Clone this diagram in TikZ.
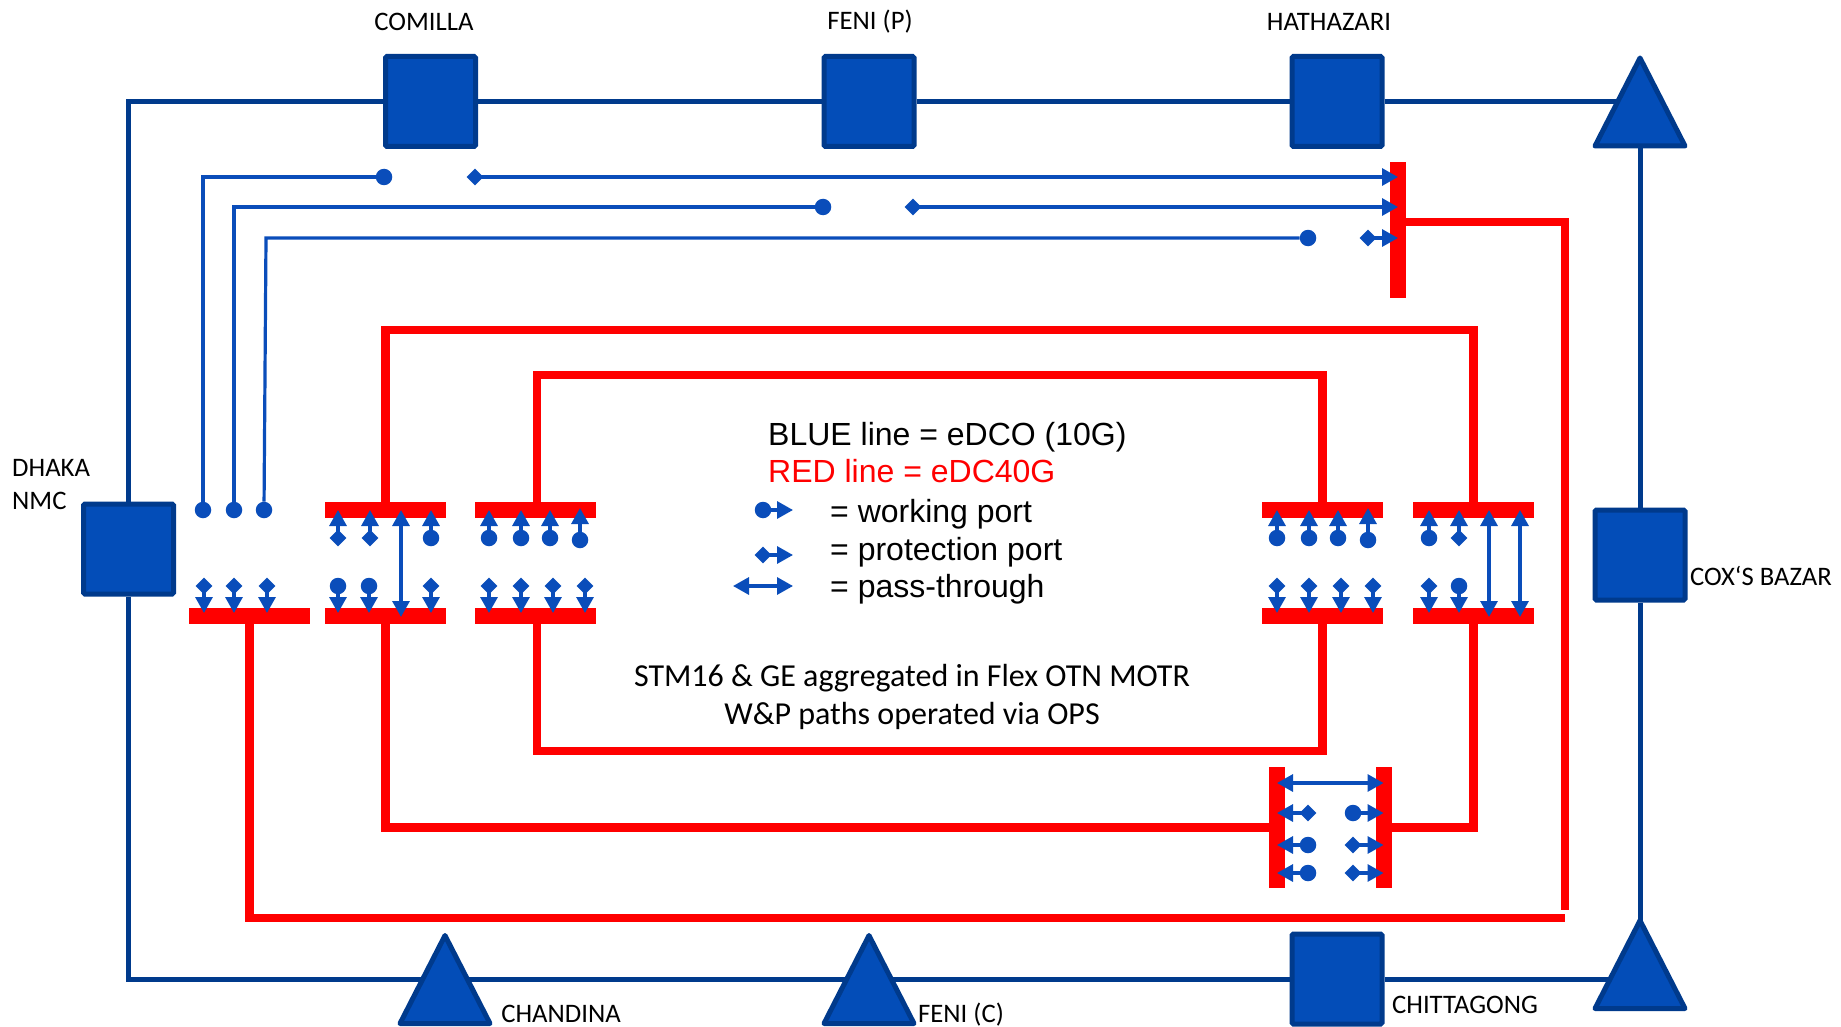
\documentclass[tikz,border=0pt]{standalone}
\usepackage{fontspec}
\setmainfont{Carlito}
\newfontfamily\legendfont{Liberation Sans}
\usetikzlibrary{arrows.meta,shapes.geometric,backgrounds}
\definecolor{ringblue}{HTML}{003A8C}
\definecolor{nodeblue}{HTML}{034DB8}
\definecolor{portblue}{HTML}{0A4DBA}
\begin{document}
\begin{tikzpicture}[
                x=1pt,
                y=-1pt,
                station/.style={
                    draw=ringblue,
                    fill=nodeblue,
                    rectangle,
                    rounded corners=1.5pt,
                    line width=5pt,
                    minimum size=90pt,
                    inner sep=0pt
                },
                tristation/.style={
                    draw=ringblue,
                    fill=nodeblue,
                    isosceles triangle,
                    isosceles triangle stretches,
                    shape border rotate=90,
                    line width=5pt,
                    line join=round,
                    minimum width=90pt,
                    minimum height=88pt,
                    inner sep=0pt,
                    outer sep=0pt,
                    anchor=lower side
                },
                ring/.style={
                    draw=ringblue,
                    line width=5pt
                },
                redbar/.style={
                    fill=red,
                    rectangle,
                    minimum width=121pt,
                    minimum height=16pt,
                    inner sep=0pt
                },
                redvbar/.style={
                    redbar,
                    minimum width=16pt,
                    minimum height=121pt
                },
                redline/.style={
                    draw=red,
                    line width=8.5pt
                },
                wport/.style={
                    fill=portblue,
                    circle,
                    minimum size=16.5pt,
                    inner sep=0pt
                },
                pport/.style={
                    fill=portblue,
                    diamond,
                    minimum size=17pt,
                    inner sep=0pt
                },
                link/.style={
                    draw=portblue,
                    line width=3.2pt
                },
                arrow/.style={
                    link,
                    shorten <=-3pt,
                    -{Triangle[length=16pt,width=17pt]}
                },
                arrowdown/.style={
                    arrow,
                    shorten >=3pt
                },
                through/.style={
                    link,
                    {Triangle[length=16pt,width=17pt]}-{Triangle[length=16pt,width=17pt]}
                },
                label/.style={
                    font=\fontsize{26.7}{33}\selectfont,
                    inner sep=0pt
                },
                note/.style={
                    font=\fontsize{32}{38}\selectfont,
                    inner sep=0pt
                },
                legend/.style={
                    font=\legendfont\fontsize{32}{38}\selectfont,
                    inner sep=0pt,
                    anchor=base west
                }
            ]
                \useasboundingbox (0,0) rectangle (1841,1027);

                % stations
                \node[station] (comilla) at (430.5,101.5) {};
                \node[station] (fenip) at (869,101.5) {};
                \node[station] (hathazari) at (1337,101.5) {};
                \node[station] (dhaka) at (128.5,549) {};
                \node[station] (cox) at (1640,555) {};
                \node[station] (chittagong) at (1337,979) {};
                \node[tristation] (corner1) at (1640,146) {};
                \node[tristation] (corner2) at (1640,1008.5) {};
                \node[tristation] (chandina) at (445,1023.5) {};
                \node[tristation] (fenic) at (869,1023.5) {};

                \node[label] (comillalabel) at (424,22) {COMILLA};
                \node[label] (fenilabel) at (870,22) {FENI (P)};
                \node[label] (hathazarilabel) at (1329,22) {HATHAZARI};
                \node[label,align=left,anchor=north west] (dhakalabel) at (12,459) {DHAKA\\NMC};
                \node[label] (coxlabel) at (1761,576) {COX‘S BAZAR};
                \node[label] (chandinalabel) at (561,1014) {CHANDINA};
                \node[label] (fenicabel) at (961,1015) {FENI (C)};
                \node[label] (chittagonglabel) at (1465,1005) {CHITTAGONG};

                % ring
                \begin{pgfonlayer}{background}
                \draw[ring] (dhaka) |- (comilla) -- (fenip) -- (hathazari) -- (hathazari -| corner1);
                \draw[ring] (corner1) -- (cox) -- (corner2);
                \draw[ring] (dhaka) |- (chittagong) -- (chittagong -| corner2);
                \end{pgfonlayer}

                % red bars
                \node[redbar] (bare) at (249.5,616) {};
                \node[redbar] (barat) at (385.5,510) {};
                \node[redbar] (barab) at (385.5,616) {};
                \node[redbar] (barbt) at (535,510) {};
                \node[redbar] (barbb) at (535,616) {};
                \node[redbar] (barct) at (1322.5,510) {};
                \node[redbar] (barcb) at (1322.5,616) {};
                \node[redbar] (bardt) at (1473.5,510) {};
                \node[redbar] (bardb) at (1473.5,616) {};
                \node[redvbar,minimum height=136pt] (barh) at (1398,230) {};
                \node[redvbar] (barf) at (1277,827.5) {};
                \node[redvbar] (barg) at (1383.5,827.5) {};

                \draw[redline] (barat.north) -- (barat.north |- 0,330) -| (bardt.north);
                \draw[redline] ([xshift=2pt]barbt.north) -- ([xshift=2pt]barbt.north |- 0,375) -| (barct.north);
                \draw[redline] ([xshift=2pt]barbb.south) -- ([xshift=2pt]barbb.south |- 0,751) -| (barcb.south);
                \draw[redline] (barab.south) |- (barf.west);
                \draw[redline] (bardb.south) |- (barg.east);
                \draw[redline] ([yshift=8pt]barh.east) -| (1565,910);
                \draw[redline] (bare.south) |- (1565,918);

                % ports on the blue links
                \node[wport] (dhaka1) at (203,510) {};
                \node[wport] (dhaka2) at (234,510) {};
                \node[wport] (dhaka3) at (264,510) {};
                \node[wport] (comillaw) at (384,177) {};
                \node[wport] (feniw) at (823,207) {};
                \node[wport] (hathw) at (1308,238) {};
                \node[pport] (comillap) at (475,177) {};
                \node[pport] (fenip2) at (913,207) {};
                \node[pport] (hathp) at (1368,238) {};

                \draw[link] (dhaka1) |- (comillaw);
                \draw[link] (dhaka2) |- (feniw);
                \draw[link] (dhaka3) -- (266,238) -- (hathw);
                \draw[arrow] (comillap) -- (comillap -| barh);
                \draw[arrow] (fenip2) -- (fenip2 -| barh);
                \draw[arrow] (hathp) -- (hathp -| barh);

                % left bar
                \node[pport] (e1) at (204,586) {};
                \node[pport] (e2) at (234,586) {};
                \node[pport] (e3) at (267,586) {};
                \draw[arrowdown] (e1) -- (e1 |- bare);
                \draw[arrowdown] (e2) -- (e2 |- bare);
                \draw[arrowdown] (e3) -- (e3 |- bare);

                % group a
                \node[pport] (at1) at (338,538) {};
                \node[pport] (at2) at (370,538) {};
                \node[wport] (at4) at (431,538) {};
                \node[wport] (ab1) at (338,586) {};
                \node[wport] (ab2) at (369,586) {};
                \node[pport] (ab4) at (431,586) {};
                \coordinate (at3) at (401,510);
                \draw[arrow] (at1) -- (at1 |- barat);
                \draw[arrow] (at2) -- (at2 |- barat);
                \draw[arrow] (at4) -- (at4 |- barat);
                \draw[arrowdown] (ab1) -- (ab1 |- barab);
                \draw[arrowdown] (ab2) -- (ab2 |- barab);
                \draw[arrowdown] (ab4) -- (ab4 |- barab);
                \draw[through] (at3) -- ([yshift=-1pt]at3 |- barab);

                % group b
                \node[wport] (bt1) at (489,538) {};
                \node[wport] (bt2) at (521,538) {};
                \node[wport] (bt3) at (550,538) {};
                \node[wport] (bt4) at (580,540) {};
                \node[pport] (bb1) at (489,586) {};
                \node[pport] (bb2) at (521,586) {};
                \node[pport] (bb3) at (553,586) {};
                \node[pport] (bb4) at (585,586) {};
                \draw[arrow] (bt1) -- (bt1 |- barbt);
                \draw[arrow] (bt2) -- (bt2 |- barbt);
                \draw[arrow] (bt3) -- (bt3 |- barbt);
                \draw[arrow] (bt4) -- ([yshift=2pt]bt4 |- barbt);
                \draw[arrowdown] (bb1) -- (bb1 |- barbb);
                \draw[arrowdown] (bb2) -- (bb2 |- barbb);
                \draw[arrowdown] (bb3) -- (bb3 |- barbb);
                \draw[arrowdown] (bb4) -- (bb4 |- barbb);

                % group c
                \node[wport] (ct1) at (1277,538) {};
                \node[wport] (ct2) at (1309,538) {};
                \node[wport] (ct3) at (1338,538) {};
                \node[wport] (ct4) at (1368,540) {};
                \node[pport] (cb1) at (1277,586) {};
                \node[pport] (cb2) at (1309,586) {};
                \node[pport] (cb3) at (1341,586) {};
                \node[pport] (cb4) at (1373,586) {};
                \draw[arrow] (ct1) -- (ct1 |- barct);
                \draw[arrow] (ct2) -- (ct2 |- barct);
                \draw[arrow] (ct3) -- (ct3 |- barct);
                \draw[arrow] (ct4) -- ([yshift=2pt]ct4 |- barct);
                \draw[arrowdown] (cb1) -- (cb1 |- barcb);
                \draw[arrowdown] (cb2) -- (cb2 |- barcb);
                \draw[arrowdown] (cb3) -- (cb3 |- barcb);
                \draw[arrowdown] (cb4) -- (cb4 |- barcb);

                % group d
                \node[wport] (dt1) at (1429,538) {};
                \node[pport] (dt2) at (1459,538) {};
                \node[pport] (db1) at (1429,586) {};
                \node[wport] (db2) at (1459,586) {};
                \coordinate (dt3) at (1489,510);
                \coordinate (dt4) at (1520,510);
                \draw[arrow] (dt1) -- (dt1 |- bardt);
                \draw[arrow] (dt2) -- (dt2 |- bardt);
                \draw[arrowdown] (db1) -- (db1 |- bardb);
                \draw[arrowdown] (db2) -- (db2 |- bardb);
                \draw[through] (dt3) -- ([yshift=-1pt]dt3 |- bardb);
                \draw[through] (dt4) -- ([yshift=-1pt]dt4 |- bardb);

                % lower right pair
                \coordinate (f1) at (1277,783);
                \node[pport] (f2) at (1308,813) {};
                \node[wport] (f3) at (1308,845) {};
                \node[wport] (f4) at (1308,873) {};
                \node[wport] (g2) at (1353,813) {};
                \node[pport] (g3) at (1353,845) {};
                \node[pport] (g4) at (1353,873) {};
                \draw[through] (f1) -- (f1 -| barg);
                \draw[arrow] (f2) -- (f2 -| barf);
                \draw[arrow] (f3) -- (f3 -| barf);
                \draw[arrow] (f4) -- (f4 -| barf);
                \draw[arrow] (g2) -- (g2 -| barg);
                \draw[arrow] (g3) -- (g3 -| barg);
                \draw[arrow] (g4) -- (g4 -| barg);

                % legend
                \node[legend] (line1) at (768,445) {BLUE line = eDCO (10G)};
                \node[legend,text=red] (line2) at (768,482) {RED line = eDC40G};
                \node[legend] (line3) at (830,522) {= working port};
                \node[legend] (line4) at (830,560) {= protection port};
                \node[legend] (line5) at (830,597) {= pass-through};
                \node[wport] (key1) at (763,510) {};
                \node[pport] (key2) at (763,555) {};
                \coordinate (key3a) at (733,586);
                \coordinate (key3b) at (793,586);
                \draw[arrow] (key1) -- (key1 -| key3b);
                \draw[arrow] (key2) -- (key2 -| key3b);
                \draw[through] (key3a) -- (key3b);

                \node[note] (note1) at (912,678) {STM16 \& GE aggregated in Flex OTN MOTR};
                \node[note] (note2) at (912,716) {W\&P paths operated via OPS};
\end{tikzpicture}
\end{document}
